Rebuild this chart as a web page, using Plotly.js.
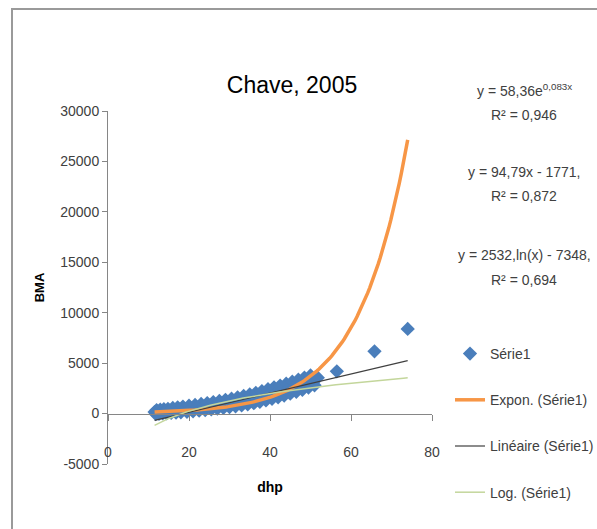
<!DOCTYPE html>
<html>
<head>
<meta charset="utf-8">
<script src="https://cdn.plot.ly/plotly-3.0.1.min.js"></script>
<style>
  html, body { margin: 0; padding: 0; background: #ffffff; }
  #chart { width: 597px; height: 529px; }
  #frame { position: absolute; left: 11px; top: 8px; width: 600px; height: 540px;
           border-top: 2px solid #9a9a9a; border-left: 2px solid #9a9a9a; pointer-events: none; }
</style>
</head>
<body>
<div id="chart"></div>
<div id="frame"></div>
<script>
// Data
const dhp = [11.5, 11.8, 12.0, 12.3, 12.6, 12.9, 13.2, 13.5, 13.8, 14.1, 14.5, 14.8, 15.2, 15.6, 16.0, 16.4, 16.8, 17.2, 17.6, 18.0,
  18.5, 19.0, 19.5, 20.0, 20.5, 21.0, 21.5, 22.0, 22.5, 23.0, 23.5, 24.0, 24.5, 25.0, 25.5, 26.0, 26.5, 27.0, 27.5, 28.0,
  28.5, 29.0, 29.5, 30.0, 30.5, 31.0, 31.5, 32.0, 32.5, 33.0, 33.5, 34.0, 34.5, 35.0, 35.5, 36.0, 36.5, 37.0, 37.5, 38.0,
  38.5, 39.0, 39.5, 40.0, 40.5, 41.0, 41.5, 42.0, 42.5, 43.0, 43.5, 44.0, 44.5, 45.0, 45.5, 46.0, 46.5, 47.0, 47.5, 48.0,
  48.5, 49.0, 49.5, 50.0, 50.5, 51.0, 51.8, 56.5, 65.8, 74.0];
const bma = [150, -50, 350, 180, -20, 400, 210, 10, 430, 240, 30, 470, 280, 60, 560, 330, 90, 620, 390, 130,
  690, 450, 180, 780, 520, 230, 860, 590, 290, 950, 670, 350, 1040, 750, 420, 1140, 820, 490, 1250, 900,
  560, 1360, 990, 640, 1480, 1090, 720, 1610, 1200, 810, 1750, 1330, 910, 1900, 1460, 1030, 2060, 1610, 1160, 2230,
  1770, 1300, 2420, 1940, 1460, 2600, 2110, 1620, 2780, 2290, 1790, 2960, 2470, 1970, 3160, 2660, 2160, 3360, 2860, 2360,
  3570, 3070, 2580, 3780, 3290, 2800, 3560, 4190, 6170, 8390];

// Trendline coefficients as printed on the chart
const expCoef = [58.36, 0.083];     // y = a e^(b x)
const linCoef = [94.79, -1771];     // y = a x + b
const logCoef = [2532, -7348];      // y = a ln(x) + b
const trendRange = [11.5, 74.0];

const xTicks = [0, 20, 40, 60, 80];
const yTicks = [-5000, 0, 5000, 10000, 15000, 20000, 25000, 30000];

const eqTexts = ['y = 58,36e<sup>0,083x</sup>', 'R² = 0,946',
                 'y = 94,79x - 1771,', 'R² = 0,872',
                 'y = 2532,ln(x) - 7348,', 'R² = 0,694'];

// Trendline samples from the printed equations
const tx = [];
for (let i = 0; i <= 120; i++) tx.push(trendRange[0] + (trendRange[1] - trendRange[0]) * i / 120);
const yExp = tx.map(x => expCoef[0] * Math.exp(expCoef[1] * x));
const yLin = tx.map(x => linCoef[0] * x + linCoef[1]);
const yLog = tx.map(x => logCoef[0] * Math.log(x) + logCoef[1]);

const FONT = '"Liberation Sans Narrow", "Liberation Sans", Arial, sans-serif';
const TXT = '#404040';

const traces = [
  { x: dhp, y: bma, type: 'scatter', mode: 'markers', name: 'Série1', legendgroup: 'a',
    marker: { symbol: 'diamond', size: 11, color: '#4a7ebb' } },
  { x: tx, y: yExp, type: 'scatter', mode: 'lines', name: 'Expon. (Série1)', legendgroup: 'b',
    line: { color: '#f79646', width: 3.5 } },
  { x: tx, y: yLin, type: 'scatter', mode: 'lines', name: 'Linéaire (Série1)', legendgroup: 'c',
    line: { color: '#404040', width: 1.2 } },
  { x: tx, y: yLog, type: 'scatter', mode: 'lines', name: 'Log. (Série1)', legendgroup: 'd',
    line: { color: '#c3d69b', width: 1.5 } }
];

const eqY = [90, 115, 172, 196, 255, 280];
const annotations = eqTexts.map((t, i) => ({
  text: t, xref: 'paper', yref: 'paper', x: (524 - 108) / 324, y: (464 - eqY[i]) / 353,
  xanchor: 'center', yanchor: 'middle', showarrow: false,
  font: { family: FONT, size: 14, color: TXT }
}));

const layout = {
  width: 597, height: 529,
  margin: { l: 108, r: 165, t: 111, b: 65, autoexpand: false },
  paper_bgcolor: 'rgba(0,0,0,0)', plot_bgcolor: 'rgba(0,0,0,0)',
  font: { family: FONT, color: TXT, size: 14 },
  title: { text: 'Chave, 2005', x: 292 / 597, xref: 'container', xanchor: 'center',
           y: 1 - 85 / 529, yref: 'container', yanchor: 'middle',
           font: { family: FONT, size: 23, color: '#000000' } },
  xaxis: {
    range: [0, 80], tickvals: xTicks, ticktext: xTicks.map(String),
    anchor: 'free', position: 5000 / 35000,
    showline: true, linecolor: '#868686', linewidth: 1,
    ticks: 'outside', ticklen: 6, tickcolor: '#868686',
    ticklabelstandoff: 20,
    showgrid: false, zeroline: false,
    tickfont: { family: FONT, size: 14, color: TXT },
    title: { text: '<b>dhp</b>', font: { family: FONT, size: 14, color: '#000000' }, standoff: 22 }
  },
  yaxis: {
    range: [-5000, 30000], tickvals: yTicks, ticktext: yTicks.map(String),
    showline: true, linecolor: '#868686', linewidth: 1,
    ticks: 'outside', ticklen: 5, tickcolor: '#868686',
    showgrid: false, zeroline: false,
    tickfont: { family: FONT, size: 14, color: TXT },
    title: { text: '<b>BMA</b>', font: { family: 'Liberation Sans, sans-serif', size: 13, color: '#000000' }, standoff: 12 }
  },
  showlegend: true,
  legend: {
    x: (450 - 108) / 324, xanchor: 'left', y: (464 - 338) / 353, yanchor: 'top',
    tracegroupgap: 25, bgcolor: 'rgba(0,0,0,0)',
    font: { family: FONT, size: 14, color: TXT }
  },
  annotations: annotations
};

Plotly.newPlot('chart', traces, layout, { displayModeBar: false, staticPlot: true });
</script>
</body>
</html>
